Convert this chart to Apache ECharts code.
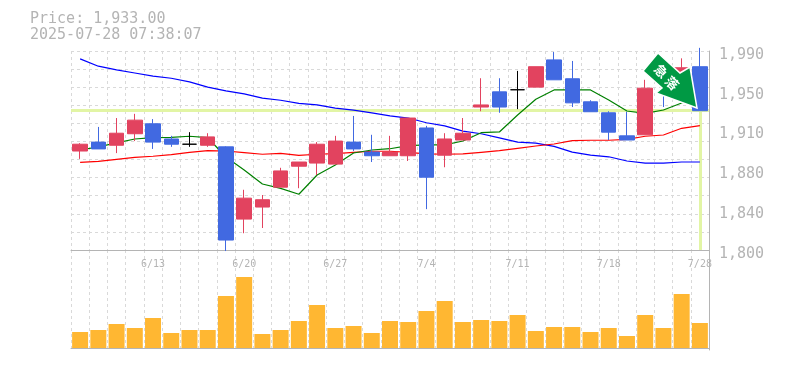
<!DOCTYPE html>
<html>
<head>
<meta charset="utf-8">
<style>
  html, body { margin: 0; padding: 0; background: #fff; }
  #chart { width: 785px; height: 370px; }
</style>
<script src="https://cdn.jsdelivr.net/npm/echarts@6/dist/echarts.min.js"></script>
</head>
<body>
<div id="chart"></div>
<script>
const categories = [
  "6/9", "6/10", "6/11", "6/12", "6/13", "6/16", "6/17", "6/18", "6/19", "6/20",
  "6/23", "6/24", "6/25", "6/26", "6/27", "6/30", "7/1", "7/2", "7/3", "7/4",
  "7/7", "7/8", "7/9", "7/10", "7/11", "7/14", "7/15", "7/16", "7/17", "7/18",
  "7/22", "7/23", "7/24", "7/25", "7/28",
];
const tickLabels = ["6/13", "6/20", "6/27", "7/4", "7/11", "7/18", "7/28"];
const priceTicks = [1800, 1838, 1876, 1914, 1952, 1990];
const gridTicks = [1800, 1817.3, 1834.5, 1851.8, 1869.1, 1886.4, 1903.6, 1920.9, 1938.2, 1955.5, 1972.7, 1990];

const opens = [
  1894.5, 1903, 1900, 1911, 1920.5, 1906, 1901, 1900, 1898.5, 1829.5,
  1841, 1860, 1880, 1883, 1882, 1903, 1893.5, 1890, 1890, 1916.5,
  1890.5, 1905, 1936.5, 1951, 1953, 1955.5, 1981.5, 1963.5, 1941.5, 1931,
  1909, 1910, 1972, 1962, 1975,
];
const closes = [
  1901, 1896.5, 1911.5, 1924, 1903, 1901, 1901, 1908, 1809.5, 1849.5,
  1848, 1875.5, 1884, 1901, 1904, 1896.5, 1890, 1893.5, 1926, 1869.5,
  1906, 1911.5, 1938.5, 1936.5, 1953, 1975, 1962.5, 1940.5, 1932, 1912.5,
  1905, 1954.5, 1962.5, 1974, 1933,
];
const lows = [
  1887, 1896.5, 1892.5, 1904, 1896.5, 1898.5, 1898.5, 1898.5, 1799, 1816,
  1821, 1860, 1859, 1871.5, 1882, 1894.5, 1884, 1890, 1885, 1839,
  1879, 1905, 1932.5, 1931, 1934.5, 1955.5, 1962.5, 1936.5, 1932, 1905,
  1905, 1910, 1936.5, 1960, 1933,
];
const highs = [
  1902, 1917.5, 1926, 1930, 1925, 1909, 1912.5, 1911.5, 1899, 1857.5,
  1852.5, 1878.5, 1884, 1903, 1909, 1928, 1910, 1909, 1926, 1918.5,
  1911.5, 1926, 1964, 1964, 1971, 1975, 1989, 1980.5, 1943, 1932.5,
  1932, 1962.5, 1974, 1983, 1993,
];
const ma5 = [
  1895.5, 1898.4, 1902.2, 1906, 1907.2, 1907.6, 1908.6, 1907.2, 1888.8, 1876.4,
  1863, 1858.9, 1853.2, 1871.6, 1881.2, 1892.6, 1895.5, 1896.7, 1899.6, 1900.3,
  1900.3, 1904.1, 1912, 1912.7, 1928.9, 1943.9, 1952.8, 1952.8, 1952.8, 1943.3,
  1932.7, 1930.5, 1933.7, 1940.4, 1946.1,
];
const ma25 = [
  1883.7, 1884.7, 1886.6, 1888.5, 1889.5, 1891, 1893.3, 1894.8, 1894.5, 1892.9,
  1891.4, 1892.3, 1890.4, 1891.4, 1892, 1893.3, 1894.3, 1894.3, 1893.3, 1891.7,
  1891.4, 1891.7, 1893.3, 1894.8, 1897.1, 1899.3, 1901.2, 1904.4, 1904.8, 1904.8,
  1905.7, 1908.6, 1909.8, 1916.2, 1918.7,
];
const ma75 = [
  1982.5, 1975.5, 1972, 1969, 1966, 1964, 1960.5, 1955.5, 1952, 1949,
  1945, 1943, 1940, 1938.5, 1935.5, 1933.5, 1931, 1928, 1926, 1921.5,
  1918.5, 1913.5, 1911, 1907, 1903, 1902, 1899, 1893.5, 1890.5, 1889,
  1885, 1883, 1883, 1884, 1884,
];
const volumes = [
  16, 18, 24, 20, 30, 15, 18, 18, 52, 71,
  14, 18, 27, 43, 20, 22, 15, 27, 26, 37,
  47, 26, 28, 27, 33, 17, 21, 21, 16, 20,
  12, 33, 20, 54, 25,
];
const lastPrice = 1933;

const MONO = "'DejaVu Sans Mono', monospace";
const GRAY = "#b4b4b4";
const DASH = { color: "#d9d9d9", width: 1, type: [3, 3] };

const candles = categories.map((_, i) => [opens[i], closes[i], lows[i], highs[i]]);

const chart = echarts.init(document.getElementById("chart"), null, { renderer: "canvas" });
chart.setOption({
  animation: false,
  backgroundColor: "#ffffff",
  title: {
    text: "Price: 1,933.00\n2025-07-28 07:38:07",
    left: 30,
    top: 11,
    padding: 0,
    textStyle: { fontFamily: MONO, fontSize: 15, lineHeight: 16, fontWeight: "normal", color: GRAY },
  },
  grid: [
    { left: 71, top: 51, width: 638, height: 199 },
    { left: 71, top: 250, width: 638, height: 100 },
  ],
  xAxis: [
    {
      type: "category",
      gridIndex: 0,
      data: categories,
      axisLine: { lineStyle: { color: GRAY, width: 1 } },
      axisTick: { show: false },
      axisLabel: {
        interval: (i) => tickLabels.includes(categories[i]),
        fontFamily: MONO,
        fontSize: 10,
        color: GRAY,
        margin: 9,
      },
      splitLine: { show: true, interval: 0, lineStyle: DASH },
    },
    {
      type: "category",
      gridIndex: 1,
      data: categories,
      axisLine: { lineStyle: { color: GRAY, width: 1 } },
      axisTick: { show: false },
      axisLabel: { show: false },
      splitLine: { show: true, interval: 0, lineStyle: DASH },
    },
  ],
  yAxis: [
    {
      type: "value",
      gridIndex: 0,
      position: "right",
      min: 1800,
      max: 1990,
      axisLine: { show: true, lineStyle: { color: GRAY, width: 1 } },
      axisTick: { show: false, customValues: priceTicks },
      axisLabel: {
        customValues: priceTicks,
        // the source rounds its labels to the nearest ten
        formatter: (v) => (Math.round(v / 10) * 10).toLocaleString("en-US"),
        fontFamily: MONO,
        fontSize: 15,
        color: GRAY,
        margin: 10,
        verticalAlign: "top",
        lineHeight: 8,
      },
      splitLine: { show: false },
    },
    {
      type: "value",
      gridIndex: 0,
      min: 1800,
      max: 1990,
      axisLine: { show: false },
      axisTick: { show: false, customValues: gridTicks },
      axisLabel: { show: false, customValues: gridTicks },
      splitLine: { show: true, lineStyle: DASH },
    },
    {
      type: "value",
      gridIndex: 1,
      position: "right",
      min: -2,
      max: 98,
      axisLine: { show: true, lineStyle: { color: GRAY, width: 1 } },
      axisTick: { show: false },
      axisLabel: { show: false },
      splitLine: { show: false },
    },
  ],
  series: [
    {
      name: "ma75",
      type: "line",
      data: ma75,
      xAxisIndex: 0,
      yAxisIndex: 0,
      z: 2,
      symbol: "none",
      lineStyle: { color: "#0000ff", width: 1.2 },
      markLine: {
        silent: true,
        z: 1,
        symbol: "none",
        label: { show: false },
        lineStyle: { color: "#e2f5a5", width: 3, type: "solid" },
        data: [
          { yAxis: lastPrice },
          [
            { xAxis: categories.length - 1, yAxis: lastPrice },
            { xAxis: categories.length - 1, yAxis: 1800 },
          ],
        ],
      },
    },
    {
      name: "ma25",
      type: "line",
      data: ma25,
      xAxisIndex: 0,
      yAxisIndex: 0,
      z: 2,
      symbol: "none",
      lineStyle: { color: "#ff0000", width: 1.2 },
    },
    {
      name: "ma5",
      type: "line",
      data: ma5,
      xAxisIndex: 0,
      yAxisIndex: 0,
      z: 2,
      symbol: "none",
      lineStyle: { color: "#008000", width: 1.2 },
    },
    {
      name: "price",
      type: "candlestick",
      data: candles,
      xAxisIndex: 0,
      yAxisIndex: 0,
      z: 3,
      barWidth: 15,
      itemStyle: {
        color: "#e2435f",
        color0: "#4169e1",
        borderColor: "#e2435f",
        borderColor0: "#4169e1",
        borderColorDoji: "#000000",
        borderWidth: 1,
      },
    },
    {
      name: "volume",
      type: "bar",
      data: volumes,
      xAxisIndex: 1,
      yAxisIndex: 2,
      barWidth: 16,
      itemStyle: { color: "#ffb732" },
    },
  ],
  graphic: [
    {
      type: "polygon",
      z: 100,
      shape: {
        points: [[658, 53], [680, 73], [690, 67], [697, 108], [656, 93], [662, 88], [643, 71]],
      },
      style: { fill: "#009944", stroke: "#ffffff", lineWidth: 1.5 },
    },
    {
      type: "text",
      z: 101,
      x: 661,
      y: 71,
      rotation: -Math.PI / 4,
      style: {
        text: "急",
        fill: "#ffffff",
        font: "bold 13px 'Noto Sans CJK JP'",
        align: "center",
        verticalAlign: "middle",
      },
    },
    {
      type: "text",
      z: 101,
      x: 672,
      y: 83,
      rotation: -Math.PI / 4,
      style: {
        text: "落",
        fill: "#ffffff",
        font: "bold 13px 'Noto Sans CJK JP'",
        align: "center",
        verticalAlign: "middle",
      },
    },
  ],
});
</script>
</body>
</html>
